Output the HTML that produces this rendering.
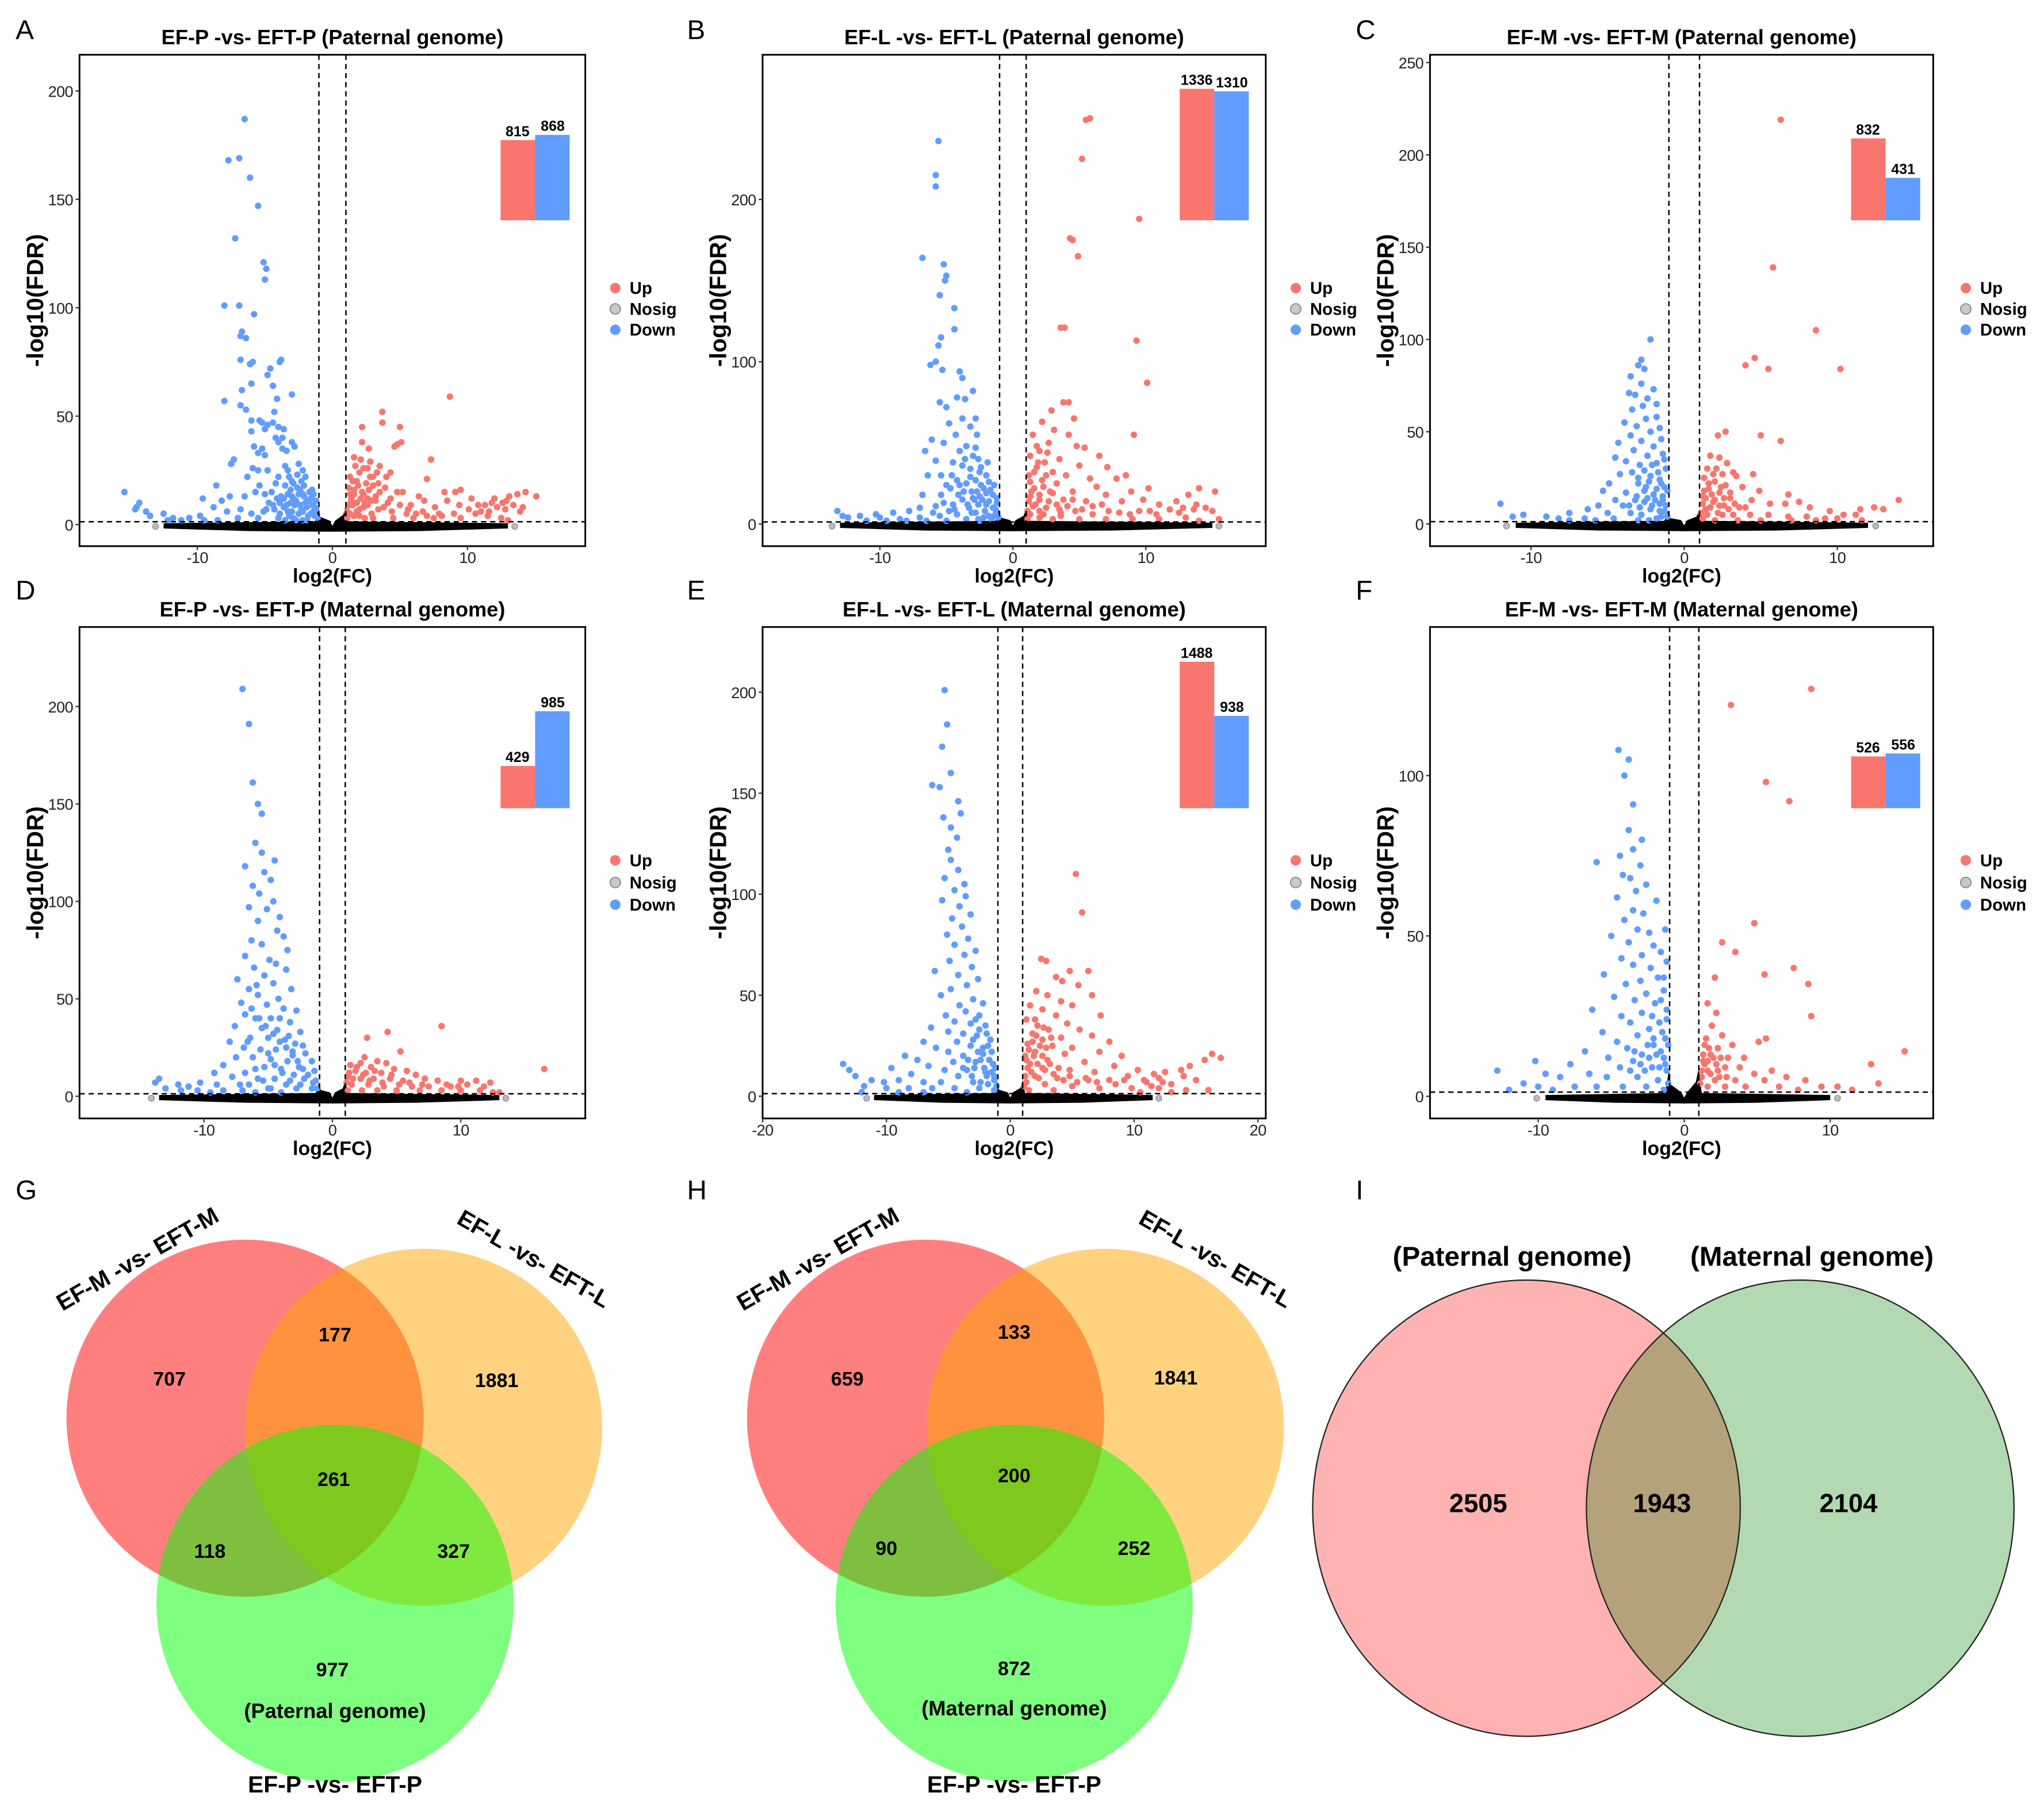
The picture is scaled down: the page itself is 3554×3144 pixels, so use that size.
<!DOCTYPE html>
<html><head><meta charset="utf-8"><title>Volcano plots and Venn diagrams</title>
<style>
html,body{margin:0;padding:0;background:#fff;}
svg{display:block;}
text{font-family:"Liberation Sans Narrow","Liberation Sans",sans-serif;}
.b{font-weight:bold;}
</style></head>
<body>
<svg id="fig" xmlns="http://www.w3.org/2000/svg" width="3554" height="3144" viewBox="0 0 1568 1387" preserveAspectRatio="none">
<rect x="0" y="0" width="1568" height="1387" fill="#fff"/>
<g id="volcanoes"></g>

<!-- Venn G -->
<g>
<text x="12" y="920" font-size="21">G</text>
<circle cx="188" cy="1088" r="137" fill="#ff0000" fill-opacity="0.5"/>
<circle cx="325" cy="1095" r="137" fill="#ffa500" fill-opacity="0.5"/>
<circle cx="257" cy="1230" r="137" fill="#00ff00" fill-opacity="0.5"/>
<text x="105" y="972" font-size="18" class="b" text-anchor="middle" transform="rotate(-30 105 965)">EF-M -vs- EFT-M</text>
<text x="410" y="972" font-size="18" class="b" text-anchor="middle" transform="rotate(30 410 965)">EF-L -vs- EFT-L</text>
<text x="257" y="1375" font-size="18" class="b" text-anchor="middle">EF-P -vs- EFT-P</text>
<text x="257" y="1318" font-size="16" class="b" text-anchor="middle">(Paternal genome)</text>
<g font-size="15" class="b" text-anchor="middle">
<text x="130" y="1063" class="b">707</text><text x="257" y="1029" class="b">177</text><text x="381" y="1064" class="b">1881</text>
<text x="256" y="1140" class="b">261</text><text x="161" y="1195" class="b">118</text><text x="348" y="1195" class="b">327</text><text x="255" y="1286" class="b">977</text>
</g></g>

<!-- Venn H -->
<g>
<text x="527" y="920" font-size="21">H</text>
<circle cx="710" cy="1088" r="137" fill="#ff0000" fill-opacity="0.5"/>
<circle cx="848" cy="1095" r="137" fill="#ffa500" fill-opacity="0.5"/>
<circle cx="778" cy="1230" r="137" fill="#00ff00" fill-opacity="0.5"/>
<text x="627" y="972" font-size="18" class="b" text-anchor="middle" transform="rotate(-30 627 965)">EF-M -vs- EFT-M</text>
<text x="933" y="972" font-size="18" class="b" text-anchor="middle" transform="rotate(30 933 965)">EF-L -vs- EFT-L</text>
<text x="778" y="1375" font-size="18" class="b" text-anchor="middle">EF-P -vs- EFT-P</text>
<text x="778" y="1316" font-size="16" class="b" text-anchor="middle">(Maternal genome)</text>
<g font-size="15" text-anchor="middle">
<text x="650" y="1063" class="b">659</text><text x="778" y="1027" class="b">133</text><text x="902" y="1062" class="b">1841</text>
<text x="778" y="1137" class="b">200</text><text x="680" y="1193" class="b">90</text><text x="870" y="1193" class="b">252</text><text x="778" y="1285" class="b">872</text>
</g></g>

<!-- Venn I -->
<g>
<text x="1040" y="920" font-size="21">I</text>
<defs><clipPath id="pinkclip"><ellipse cx="1171" cy="1157" rx="164" ry="175"/></clipPath></defs>
<ellipse cx="1171" cy="1157" rx="164" ry="175" fill="#feb2b2"/>
<ellipse cx="1381" cy="1157" rx="164" ry="175" fill="#b3d9b3"/>
<ellipse cx="1381" cy="1157" rx="164" ry="175" fill="#b4a27b" clip-path="url(#pinkclip)"/>
<ellipse cx="1171" cy="1157" rx="164" ry="175" fill="none" stroke="#222" stroke-width="1"/>
<ellipse cx="1381" cy="1157" rx="164" ry="175" fill="none" stroke="#222" stroke-width="1"/>
<text x="1160" y="971" font-size="21" class="b" text-anchor="middle">(Paternal genome)</text>
<text x="1390" y="971" font-size="21" class="b" text-anchor="middle">(Maternal genome)</text>
<text x="1134" y="1160" font-size="20" class="b" text-anchor="middle">2505</text>
<text x="1275" y="1160" font-size="20" class="b" text-anchor="middle">1943</text>
<text x="1418" y="1160" font-size="20" class="b" text-anchor="middle">2104</text>
</g>
</svg>

<script>
// ===== DATA =====
const titles = ["EF-P -vs- EFT-P (Paternal genome)","EF-L -vs- EFT-L (Paternal genome)","EF-M -vs- EFT-M (Paternal genome)","EF-P -vs- EFT-P (Maternal genome)","EF-L -vs- EFT-L (Maternal genome)","EF-M -vs- EFT-M (Maternal genome)"];
const letters = ["A","B","C","D","E","F"];
const xTicks = [[-10,0,10],[-10,0,10],[-10,0,10],[-10,0,10],[-20,-10,0,10,20],[-10,0,10]];
const yTicks = [[0,50,100,150,200],[0,100,200],[0,50,100,150,200,250],[0,50,100,150,200],[0,50,100,150,200],[0,50,100]];
const upCounts = [815,1336,832,429,1488,526];
const downCounts = [868,1310,431,985,938,556];
const fcCut = 1;
const fdrCut = 1.3;
const nosigRange = [[-12.5,13],[-13,15],[-11,12],[-13.5,13],[-11,11.5],[-9.5,10]];
const nosigSpikeHeight = [9,10,8,8,8,9];

const downA=[[-6.5,187],[-7.7,168],[-6.9,169],[-6.1,160],[-5.5,147],[-7.2,132],[-5.1,121],[-4.9,118],[-5,113],[-8,101],[-6.9,101],[-5.8,97],[-6.7,89],[-6.8,87],[-6.4,86],[-6.8,76],[-5.9,75],[-6.1,74],[-3.8,76],[-3.9,75],[-4.6,72],[-4.8,69],[-4.4,64],[-6,65],[-6.7,62],[-3,60],[-8,57],[-4.1,58],[-6.8,55],[-6.4,53],[-4.3,52],[-6,48],[-5.4,48],[-5.2,47],[-4.4,47],[-4.8,46],[-4.0,45],[-3.6,44],[-6,43],[-5,44],[-4.2,40],[-3.7,40],[-4,38],[-3,38],[-2.8,36],[-5.8,36],[-5.2,35],[-5.5,33],[-5,32],[-3.7,35],[-3.4,34],[-7.3,30],[-7.5,28],[-5.9,26],[-5.5,25],[-4.8,25],[-3.5,27],[-2.5,28],[-6.3,22],[-4.0,22],[-3.2,22],[-2.3,20],[-8.6,18],[-5.4,18],[-4.2,19],[-3,20],[-2.6,17],[-15.4,15],[-14.3,10],[-14.5,8],[-14.6,7],[-13.8,6],[-13.5,4],[-12.5,5],[-11.8,3],[-9.6,12],[-8.2,11],[-7.6,13],[-6.5,13],[-5.7,15],[-5,14],[-4.5,15],[-3.8,13],[-3.3,14],[-2.2,14],[-1.6,12],[-1.2,11],[-2,10],[-2.8,9],[-3.6,8],[-4.3,7],[-5.1,6],[-6.0,5],[-6.8,7],[-7.8,6],[-8.8,8],[-9.8,4],[-10.6,3],[-11.2,2],[-12.2,2],[-1.4,6],[-1.8,4],[-2.5,5],[-3.2,4],[-4.0,3],[-5.5,3],[-7,3],[-8.5,2],[-9.5,2],[-1.5,16],[-2.1,18],[-2.9,12],[-3.9,10],[-4.7,10],[-1.3,8],[-2.3,7],[-3.0,6],[-1.9,2],[-2.7,2],[-3.5,2]];
const denseDownA=[[-1.1,3],[-1.3,4],[-1.6,5],[-1.2,7],[-1.5,9],[-1.9,8],[-2.2,6],[-2.4,9],[-2.7,11],[-1.8,11],[-2.1,13],[-2.5,14],[-3.1,10],[-3.4,9],[-3.0,13],[-3.6,12],[-4.1,12],[-4.4,9],[-4.9,7],[-3.9,5],[-3.3,6],[-2.9,3],[-2.2,2],[-1.7,15],[-2.4,16],[-3.1,16],[-3.5,18],[-1.4,14],[-2.9,19],[-2.0,22],[-2.6,23],[-3.3,25],[-2.2,25]];
const upA=[[8.7,59],[3.7,52],[3.7,47],[2.2,45],[5,45],[2.2,38],[4.8,37],[5.1,38],[4.6,36],[2.7,35],[1.6,31],[2.1,30],[7.3,30],[2.8,29],[1.7,27],[3.5,27],[2.6,26],[3.3,24],[4.3,24],[1.3,22],[2.8,22],[4,22],[1.8,20],[2.5,19],[3.0,18],[7,21],[3.9,17],[1.2,17],[2.2,15],[3.5,15],[4.8,15],[5.2,15],[8.3,15],[9.1,15],[9.5,16],[14.3,15],[13.7,14],[15.1,13],[13.1,13],[12,12],[10.3,12],[1.4,12],[2.6,12],[3.2,11],[4.1,10],[6.4,13],[6.8,11],[5.8,9],[7.6,8],[8.5,11],[9.4,9],[11.3,9],[11.8,10],[12.6,10],[13.4,9],[14.1,8],[13.9,6],[12.8,7],[11,6],[10.1,7],[9,5],[7.9,5],[6.7,6],[5.5,5],[4.4,6],[3.4,7],[2.3,8],[1.5,9],[1.3,5],[2,4],[3,3],[4.5,3],[6,3],[7.5,3],[9.5,3],[11.5,4],[12.5,3],[13,2],[1.8,6],[2.9,5],[1.1,3],[1.6,14],[2.4,10]];
const denseUpA=[[1.1,6],[1.2,9],[1.4,11],[1.3,14],[1.6,16],[1.9,18],[1.5,20],[2.0,24],[1.8,10],[2.1,12],[2.3,14],[2.0,7],[2.6,9],[2.9,11],[3.2,13],[2.7,16],[3.4,19],[1.6,4],[2.4,3],[3.8,8],[4.3,12],[5.0,9],[5.6,7],[6.2,5],[7.0,4],[8.1,4],[10.6,5],[11.6,6],[12.2,8],[12.9,11],[10.8,9],[3.0,22],[2.3,26]];
const downB=[[-5.6,236],[-5.8,208],[-5.8,215],[-6.8,164],[-5.2,160],[-5.0,153],[-5.1,150],[-5.5,141],[-4.4,133],[-4.4,120],[-5.4,115],[-5.6,110],[-5.8,100],[-6.2,98],[-5.3,95],[-4,94],[-3.8,90],[-3,82],[-4.2,78],[-3.6,77],[-5.5,75],[-5,72],[-3.8,65],[-2.8,65],[-4.8,62],[-3.2,60],[-4.3,55],[-2.7,55],[-6.1,52],[-5.2,50],[-3.5,48],[-2.8,47],[-6.6,45],[-4,45],[-3,42],[-2.6,40],[-5.8,39],[-4.5,38],[-3.8,36],[-3.2,34],[-2.5,32],[-6.4,30],[-5.4,30],[-4.6,30],[-4.2,27],[-2.8,27],[-3.5,25],[-5,24],[-4.7,22],[-2.2,22],[-3.1,20],[-6.8,18],[-5.4,18],[-4.1,18],[-2.5,17],[-1.5,18],[-1.8,14],[-2.6,12],[-3.4,12],[-4.5,12],[-5.8,11],[-7,10],[-7.8,8],[-9,7],[-10.3,6],[-11.5,5],[-12.4,4],[-13.2,8],[-12.8,5],[-10,4],[-8.5,3],[-7,4],[-5.5,5],[-4.2,6],[-3.1,7],[-2.1,8],[-1.3,9],[-1.4,5],[-2.2,4],[-3.5,3],[-5,2],[-6.5,2],[-8,2],[-1.8,26],[-2.0,30],[-1.2,13],[-2.9,15],[-3.8,15],[-4.8,8],[-6,7],[-1.6,3],[-2.5,2],[-11,2],[-9.5,2]];
const denseDownB=[[-1.1,4],[-1.3,6],[-1.5,10],[-1.2,16],[-1.7,21],[-1.4,24],[-2.0,12],[-2.3,15],[-2.0,19],[-2.4,24],[-2.7,20],[-3.0,16],[-3.3,10],[-2.8,7],[-3.7,20],[-4.0,24],[-3.2,29],[-2.4,35],[-1.9,38],[-3.6,40],[-4.4,9],[-5.2,13],[-1.8,5],[-2.6,3]];
const upB=[[5.8,250],[5.5,249],[5.2,225],[9.5,188],[4.5,175],[4.3,176],[4.9,165],[3.6,121],[3.9,121],[9.3,113],[10.1,87],[4.2,75],[3.8,75],[9.1,55],[2.9,70],[4.6,65],[2.2,63],[3.1,58],[1.5,55],[4.2,55],[2.7,50],[4.8,48],[5.4,47],[2,45],[6.5,42],[1.3,42],[3.5,40],[2.4,38],[5,36],[1.8,35],[7.1,35],[3,32],[4,30],[5.8,28],[7.8,28],[8.5,30],[1.2,30],[2.2,27],[3.3,25],[6.3,23],[1.6,22],[2.8,20],[4.5,20],[7,18],[8.9,20],[10.2,22],[14,22],[15.2,20],[13.2,18],[12.3,14],[11,12],[9.8,15],[8.2,14],[1.3,17],[2,15],[3.8,15],[5.5,14],[6.7,12],[14.5,10],[15,8],[13.6,9],[12.5,7],[11.8,9],[10.8,6],[9.5,8],[8,7],[6,6],[4.7,8],[3.5,9],[2.5,10],[1.5,11],[1.3,6],[2,4],[3,3],[5,3],[7,3],[9,3],[11,3],[13,4],[15.5,3],[14,2],[2.3,6],[3.6,5],[1.1,3]];
const denseUpB=[[1.1,8],[1.2,14],[1.4,20],[1.3,26],[1.6,32],[1.9,38],[1.7,12],[2.0,18],[2.3,23],[2.5,30],[2.0,8],[2.7,14],[3.0,19],[3.3,12],[3.6,7],[4.1,11],[4.5,15],[5.2,9],[6.0,11],[7.2,8],[8.8,6],[10.3,8],[12.8,10],[13.8,12],[2.6,44],[1.8,48]];
const downC=[[-2.2,100],[-2.8,89],[-3,86],[-2.6,84],[-3.5,80],[-2.8,76],[-2,73],[-3.6,71],[-3.2,70],[-2.4,68],[-1.8,65],[-2.7,64],[-3.4,62],[-1.8,58],[-2.5,57],[-3.9,55],[-3.1,53],[-1.6,52],[-2.2,50],[-3.5,48],[-1.5,46],[-2.8,45],[-4.3,44],[-2,42],[-3.3,40],[-1.4,38],[-2.4,37],[-4.5,36],[-3.8,34],[-1.8,33],[-2.9,32],[-1.2,30],[-3.4,28],[-4.2,27],[-2.2,26],[-1.6,24],[-4.9,22],[-3,22],[-2.5,20],[-1.3,20],[-5.3,18],[-3.8,17],[-2,16],[-1.4,15],[-4.5,13],[-3.2,13],[-2.6,12],[-1.6,11],[-5.6,10],[-4,10],[-6.3,8],[-2.2,8],[-1.3,7],[-7.5,6],[-5,6],[-3.5,6],[-2.8,5],[-12,11],[-10.5,5],[-11.2,4],[-9,4],[-8.2,3],[-6.5,3],[-4.6,3],[-3,2],[-1.8,3],[-1.5,4],[-2.3,2],[-5.8,2],[-7.5,2]];
const denseDownC=[[-1.1,4],[-1.2,10],[-1.4,13],[-1.1,18],[-1.5,22],[-1.8,19],[-1.9,13],[-2.1,10],[-2.4,14],[-2.6,18],[-2.3,23],[-2.9,9],[-3.1,15],[-3.6,10],[-1.7,28],[-2.1,32],[-1.3,35],[-2.6,29],[-3.0,25],[-1.6,7]];
const upC=[[6.3,219],[5.8,139],[8.6,105],[10.2,84],[4.6,90],[4,86],[5.5,84],[2.7,50],[2.2,48],[5,48],[6.3,45],[1.7,37],[2.3,36],[2.8,33],[1.5,30],[2.1,30],[3.2,28],[2.5,27],[4.5,27],[3.4,26],[1.3,25],[2,23],[2.7,21],[3.8,20],[1.6,19],[4.9,18],[2.3,17],[6.8,16],[1.2,15],[3,14],[4.4,13],[1.9,12],[5.6,11],[6.6,11],[7.5,12],[2.6,10],[3.6,9],[8.2,9],[9.5,7],[11.5,8],[12.4,9],[14,13],[13,8],[10.4,5],[11.2,5],[1.4,8],[2.2,6],[3.2,5],[4.3,5],[5.5,5],[6.8,4],[8,4],[9.2,3],[10,3],[11.6,2],[1.2,3],[2,2],[3.5,2],[5,2],[7,2],[8.6,2]];
const denseUpC=[[1.1,6],[1.2,11],[1.4,14],[1.3,18],[1.6,22],[1.8,16],[2.0,13],[1.7,9],[2.3,10],[2.6,14],[2.9,8],[3.3,11],[1.9,27],[2.4,20],[3.0,17],[4.0,9],[1.5,5],[2.5,5]];
const downD=[[-7,209],[-6.5,191],[-6.2,161],[-5.8,150],[-5.5,145],[-6,130],[-5.5,125],[-4.5,121],[-6.8,118],[-5.3,115],[-4.8,111],[-6.2,108],[-5.7,104],[-4.6,100],[-6.5,97],[-5.1,96],[-4.1,92],[-5.8,90],[-4.3,85],[-3.8,82],[-6.3,80],[-5.5,78],[-3.5,75],[-6.8,72],[-4.9,70],[-4.4,68],[-6.1,66],[-3.6,65],[-5.3,62],[-7.4,60],[-4.6,58],[-6.5,55],[-3.2,55],[-5.8,52],[-4.2,50],[-7.1,48],[-5.1,47],[-3.8,45],[-2.8,44],[-6.8,42],[-6,40],[-4.8,40],[-3.3,38],[-7.6,36],[-5.5,35],[-4.3,34],[-2.5,33],[-6.4,30],[-5,30],[-3.7,29],[-8,28],[-2.9,27],[-6.9,25],[-5.6,24],[-4.4,24],[-3.1,23],[-2.1,22],[-7.5,20],[-6.2,20],[-4.8,19],[-3.5,18],[-1.6,18],[-8.5,16],[-5.3,15],[-2.6,15],[-4,14],[-1.4,13],[-9.2,12],[-6.8,12],[-3,11],[-7.8,10],[-5.8,9],[-4.5,9],[-2.2,9],[-1.3,8],[-10.3,7],[-9,6],[-6.5,6],[-3.6,6],[-11.2,5],[-12,6],[-13.5,9],[-13.8,7],[-13,4],[-11.8,3],[-10.5,3],[-8.5,3],[-7,3],[-5,4],[-2.8,4],[-1.6,4],[-4,2],[-6,2],[-9.5,2]];
const denseDownD=[[-1.2,4],[-1.5,7],[-1.9,11],[-2.3,14],[-2.7,18],[-3.1,21],[-3.6,25],[-4.1,28],[-4.6,32],[-5.2,36],[-5.7,40],[-6.3,45],[-5.0,22],[-4.5,16],[-3.9,12],[-3.3,8],[-2.5,6],[-6.0,14],[-5.4,8],[-4.8,4],[-7.2,6],[-6.6,28],[-5.9,57],[-4.1,40],[-3.4,31],[-2.3,26]];
const upD=[[16.5,14],[8.5,36],[4.3,33],[2.7,30],[5.3,23],[2.5,20],[3.5,18],[2.2,17],[4.2,17],[1.4,16],[3,15],[4.8,14],[5.8,13],[1.8,13],[2.6,12],[3.8,12],[6.5,11],[7.2,9],[1.2,10],[2.2,9],[3.2,9],[4.5,9],[5.5,8],[8.2,8],[10,8],[11.2,8],[12.3,7],[11.8,5],[10.5,6],[9.2,5],[7.5,5],[6.2,5],[4,5],[2.8,6],[1.5,6],[1.2,3],[2.3,3],[3.5,3],[5,3],[6.8,3],[8.5,3],[10,3],[11.5,3],[12.5,2],[13,2]];
const denseUpD=[[1.1,7],[1.3,12],[1.6,9],[1.9,15],[2.4,11],[2.9,8],[3.3,13],[3.9,7],[4.6,11],[5.2,6],[6.0,7],[7.0,6],[8.9,6],[9.8,5]];
const downE=[[-5.3,201],[-5.1,184],[-5.5,173],[-4.8,160],[-6.3,154],[-5.7,153],[-4.2,146],[-4,140],[-5.4,138],[-4.8,133],[-4.3,128],[-5,122],[-4.8,117],[-4.2,112],[-5.3,108],[-3.7,105],[-4.5,102],[-3.6,99],[-5.5,97],[-4.1,94],[-3.2,90],[-4.7,88],[-3.9,84],[-5.1,80],[-3.4,78],[-4.5,75],[-2.8,72],[-3.7,70],[-4.9,67],[-3.1,64],[-6.1,62],[-4.2,60],[-2.6,58],[-3.5,55],[-4.8,53],[-5.6,50],[-3,48],[-2.2,46],[-4.1,45],[-3.6,42],[-5.2,40],[-2.5,40],[-4.5,37],[-3.2,36],[-2,35],[-6.4,34],[-5,32],[-3.8,31],[-2.7,30],[-1.6,28],[-7,27],[-4.3,27],[-3.2,25],[-1.8,25],[-6,24],[-5,22],[-2.2,21],[-3.8,20],[-8.5,20],[-7.5,18],[-4.6,17],[-2.8,17],[-1.4,16],[-6.6,15],[-9.6,14],[-5.3,13],[-3.5,13],[-2,12],[-8,11],[-1.3,10],[-4.2,10],[-13.5,16],[-13,13],[-12.5,10],[-11.2,8],[-10.2,7],[-9,8],[-7,7],[-5.6,7],[-3,7],[-1.8,6],[-11.8,5],[-10,4],[-8.2,4],[-6.3,4],[-4.5,4],[-2.5,4],[-1.3,3],[-3.5,2],[-7,2],[-9,2],[-12,2]];
const denseDownE=[[-1.1,5],[-1.3,8],[-1.5,12],[-1.2,14],[-1.7,18],[-1.9,10],[-2.1,14],[-2.4,18],[-2.2,24],[-2.6,22],[-2.9,14],[-3.1,10],[-2.4,7],[-3.4,18],[-3.0,28],[-2.5,33],[-1.9,31],[-3.8,14],[-1.5,22],[-2.8,38]];
const upE=[[5.3,110],[5.8,91],[2.5,68],[2.9,67],[6.3,62],[4.8,62],[3.7,59],[4.2,57],[5.5,55],[2.1,52],[3,50],[6.6,50],[4.1,47],[1.6,45],[5,45],[2.6,43],[3.7,40],[7.3,40],[1.3,38],[4.6,36],[2.2,35],[3.1,33],[5.6,33],[1.8,31],[6.6,30],[4.1,29],[2.6,28],[8,27],[1.4,26],[3.4,25],[5,24],[7.2,22],[2,22],[4.4,21],[1.2,20],[9,20],[16.3,21],[17,19],[15.7,18],[14.5,15],[13.8,13],[12.5,12],[11.6,11],[10.3,13],[8.4,15],[6,17],[3,18],[1.6,16],[2.6,14],[4.8,13],[6.8,12],[9.5,10],[12,9],[14,10],[15,8],[13,6],[11,7],[8,8],[6.3,8],[3.8,9],[2,10],[1.3,7],[2.8,6],[5,5],[7.2,4],[9.8,4],[12,4],[14.2,3],[16,3],[1.5,3],[3.5,3],[10.5,2],[13,2]];
const denseUpE=[[1.1,5],[1.2,10],[1.4,14],[1.3,18],[1.5,23],[1.8,27],[2.1,30],[2.4,25],[1.9,20],[2.2,16],[2.6,20],[2.9,24],[1.7,12],[2.3,9],[2.8,13],[3.2,16],[3.5,11],[3.9,14],[4.3,8],[4.8,10],[5.4,7],[6.1,9],[7.0,7],[8.5,6],[9.2,8],[10.8,8],[11.4,5],[12.3,7],[2.7,34],[2.0,38],[3.3,29]];
const downF=[[-4.5,108],[-3.8,105],[-4.1,100],[-3.5,91],[-3.8,83],[-2.9,80],[-3.5,77],[-4.4,75],[-6,73],[-3,72],[-4.2,69],[-3.7,68],[-2.6,66],[-3.3,64],[-4.6,62],[-1.9,61],[-3.5,58],[-2.8,57],[-4.1,55],[-1.3,52],[-3.2,52],[-2.4,51],[-5,50],[-3.8,48],[-2.1,47],[-1.6,45],[-2.9,44],[-4.3,43],[-1.2,42],[-3.5,41],[-2.3,40],[-5.5,38],[-1.8,37],[-3,36],[-4,35],[-1.4,33],[-2.6,32],[-4.8,31],[-3.4,30],[-2,29],[-6.3,27],[-1.2,27],[-2.9,26],[-4.3,25],[-3.7,23],[-1.7,23],[-2.4,21],[-5.6,20],[-3.2,19],[-1.3,18],[-4.6,17],[-2.1,16],[-3.9,15],[-6.8,14],[-1.6,14],[-2.9,13],[-5.2,12],[-3.5,11],[-1.3,10],[-7.8,10],[-4.4,9],[-2.2,9],[-10.2,11],[-12.8,8],[-9.5,7],[-8.5,6],[-6.5,7],[-5.3,6],[-3.2,6],[-1.8,5],[-11,4],[-10,3],[-7.5,3],[-6,3],[-4.2,3],[-2.6,3],[-1.4,2],[-9,2],[-12,2]];
const denseDownF=[[-1.1,4],[-1.2,8],[-1.4,12],[-1.1,16],[-1.5,20],[-1.2,24],[-1.7,9],[-1.9,13],[-2.1,18],[-2.4,12],[-2.7,8],[-2.5,16],[-3.0,10],[-3.4,14],[-1.6,30],[-2.2,25],[-3.7,8],[-1.4,37]];
const upF=[[8.7,127],[3.2,122],[5.6,98],[7.2,92],[4.8,54],[2.6,48],[3.5,45],[7.5,40],[5.5,38],[2.1,37],[8.5,35],[8.7,25],[15.1,14],[12.8,10],[13.3,4],[1.6,29],[2.2,26],[1.9,22],[2.6,19],[5.6,18],[5.1,17],[1.4,16],[3.3,16],[2.3,15],[1.8,13],[3,12],[4.1,12],[1.3,11],[2.2,10],[2.8,9],[3.8,9],[6,8],[1.6,8],[4.8,7],[7,6],[2.4,6],[1.2,6],[3.5,5],[5.5,5],[8.3,5],[9.4,3],[10.5,3],[6.5,3],[4.2,3],[2.8,3],[1.6,3],[7.8,2],[11.5,2]];
const denseUpF=[[1.1,4],[1.2,8],[1.4,10],[1.3,13],[1.6,11],[1.8,7],[2.0,12],[1.7,15],[2.3,8],[2.5,12],[2.9,6],[1.5,18],[2.1,5]];
const downSets=[downA,downB,downC,downD,downE,downF];
const denseDownSets=[denseDownA,denseDownB,denseDownC,denseDownD,denseDownE,denseDownF];
const upSets=[upA,upB,upC,upD,upE,upF];
const denseUpSets=[denseUpA,denseUpB,denseUpC,denseUpD,denseUpE,denseUpF];

// ===== LAYOUT (styles / geometry, not data) =====
const layout=[
 {f:[61,42,449,419], x0:255, xs:10.36, y0:402.4, ys:1.663, col:0,row:0},
 {f:[585,42,971,419], x0:777, xs:10.2, y0:402, ys:1.245, col:1,row:0},
 {f:[1097,42,1483,419], x0:1292, xs:11.75, y0:402, ys:1.416, col:2,row:0},
 {f:[61,481,449,858], x0:255, xs:9.85, y0:841, ys:1.495, col:0,row:1},
 {f:[585,481,971,858], x0:775, xs:9.5, y0:841, ys:1.55, col:1,row:1},
 {f:[1097,481,1483,858], x0:1292, xs:11.2, y0:841, ys:2.46, col:2,row:1}
];
const colLetterX=[12,527,1040], rowLetterY=[30,460], colBarX=[384,905,1420], colLegX=[472,994,1508];
const rowBarBottom=[169,620], rowLegY=[[221,237,253],[660,677,694]];
const barPxPerCount=0.0755;
const RED="#f8766d", BLUE="#619cff";
const NS="http://www.w3.org/2000/svg";
const root=document.getElementById('volcanoes');
function mk(tag,attrs,parent){const e=document.createElementNS(NS,tag);for(const k in attrs)e.setAttribute(k,attrs[k]);(parent||root).appendChild(e);return e;}

layout.forEach((L,i)=>{
  const sx=v=>L.x0+v*L.xs, sy=v=>L.y0-v*L.ys;
  const [fx0,fy0,fx1,fy1]=L.f;
  const g=mk('g',{});
  
  
  const clipId='clip'+i;
  const cp=mk('clipPath',{id:clipId},g); mk('rect',{x:fx0,y:fy0,width:fx1-fx0,height:fy1-fy0},cp);
  const lt=mk('text',{x:colLetterX[L.col],y:rowLetterY[L.row],'font-size':21},g); lt.textContent=letters[i];
  
  
  const tt=mk('text',{x:(fx0+fx1)/2,y:fy0-8,'font-size':16,'text-anchor':'middle','class':'b'},g); tt.textContent=titles[i];
  
  
  const plot=mk('g',{'clip-path':'url(#'+clipId+')'},g);
  
  
  const r=nosigRange[i], base=sy(0), h=nosigSpikeHeight[i];
  const top=[[sx(r[0]),base-1],[sx(-1.3),base-2.5],[sx(-1.05),sy(h*0.9)],[sx(-0.9),sy(h*0.4)],[sx(-0.2),base-3],
             [sx(0),base+1],[sx(0.2),base-3],[sx(0.8),sy(h*0.5)],[sx(1.0),sy(h)],[sx(1.2),base-2.5],[sx(r[1]),base-1]];
  const bot=[[sx(r[1]),base+3],[sx(r[1]*0.5),base+5],[sx(0),base+5.5],[sx(r[0]*0.5),base+5],[sx(r[0]),base+3]];
  const band=mk('polygon',{points:top.concat(bot).map(p=>p.join(',')).join(' '),fill:'#000'},plot);
  
  
  [r[0]-0.6,r[1]+0.5].forEach(v=>{const c=mk('circle',{cx:sx(v),cy:base+1.5,r:2.3,fill:'#bbb',stroke:'#888','stroke-width':0.5},plot);
    
    });
  downSets[i].concat(denseDownSets[i]).forEach(p=>{const c=mk('circle',{cx:sx(p[0]),cy:sy(p[1]),r:2.5,fill:BLUE},plot);
    
    });
  upSets[i].concat(denseUpSets[i]).forEach(p=>{const c=mk('circle',{cx:sx(p[0]),cy:sy(p[1]),r:2.5,fill:RED},plot);
    
    });
  [-fcCut,fcCut].forEach(v=>{const l=mk('line',{x1:sx(v),x2:sx(v),y1:fy0,y2:fy1,stroke:'#000','stroke-width':1.1,'stroke-dasharray':'4,3'},g);
    
    });
  const hl=mk('line',{x1:fx0,x2:fx1,y1:sy(fdrCut),y2:sy(fdrCut),stroke:'#000','stroke-width':1.1,'stroke-dasharray':'4,3'},g);
  
  
  const fr=mk('rect',{x:fx0,y:fy0,width:fx1-fx0,height:fy1-fy0,fill:'none',stroke:'#000','stroke-width':1.3},g);
  
  
  xTicks[i].forEach(v=>{mk('line',{x1:sx(v),x2:sx(v),y1:fy1,y2:fy1+3,stroke:'#333','stroke-width':1},g);
    const t=mk('text',{x:sx(v),y:fy1+13,'font-size':12,'letter-spacing':'-0.3','text-anchor':'middle',fill:'#222'},g); t.textContent=v;
    
    });
  yTicks[i].forEach(v=>{mk('line',{x1:fx0-3,x2:fx0,y1:sy(v),y2:sy(v),stroke:'#333','stroke-width':1},g);
    const t=mk('text',{x:fx0-5,y:sy(v)+4.5,'font-size':12,'letter-spacing':'-0.3','text-anchor':'end',fill:'#222'},g); t.textContent=v;
    
    });
  const xl=mk('text',{x:(fx0+fx1)/2,y:fy1+28,'font-size':15,'text-anchor':'middle','class':'b'},g); xl.textContent='log2(FC)';
  
  
  const yc=fx0-28, ym=(fy0+fy1)/2;
  const yl=mk('text',{x:yc,y:ym,'font-size':18,'text-anchor':'middle','class':'b',transform:'rotate(-90 '+yc+' '+ym+')'},g); yl.textContent='-log10(FDR)';
  
  
  const bx=colBarX[L.col], bb=rowBarBottom[L.row];
  const hu=upCounts[i]*barPxPerCount, hd=downCounts[i]*barPxPerCount;
  const br=mk('rect',{x:bx,y:bb-hu,width:26.5,height:hu,fill:RED},g);
  
  
  const bd=mk('rect',{x:bx+26.5,y:bb-hd,width:26.5,height:hd,fill:BLUE},g);
  
  
  const lu=mk('text',{x:bx+13,y:bb-hu-3,'font-size':11,'text-anchor':'middle','class':'b'},g); lu.textContent=upCounts[i];
  
  
  const ld=mk('text',{x:bx+40,y:bb-hd-3,'font-size':11,'text-anchor':'middle','class':'b'},g); ld.textContent=downCounts[i];
  
  
  const lx=colLegX[L.col], ly=rowLegY[L.row];
  const leg=[['Up',RED,'none'],['Nosig','#c8c8c8','#888'],['Down',BLUE,'none']];
  leg.forEach((e,k)=>{
    const c=mk('circle',{cx:lx,cy:ly[k],r:4,fill:e[1],stroke:e[2],'stroke-width':0.8},g);
    
    
    const t=mk('text',{x:lx+11,y:ly[k]+4.5,'font-size':13,'class':'b'},g); t.textContent=e[0];
    
    
  });
});
</script>
</body></html>
